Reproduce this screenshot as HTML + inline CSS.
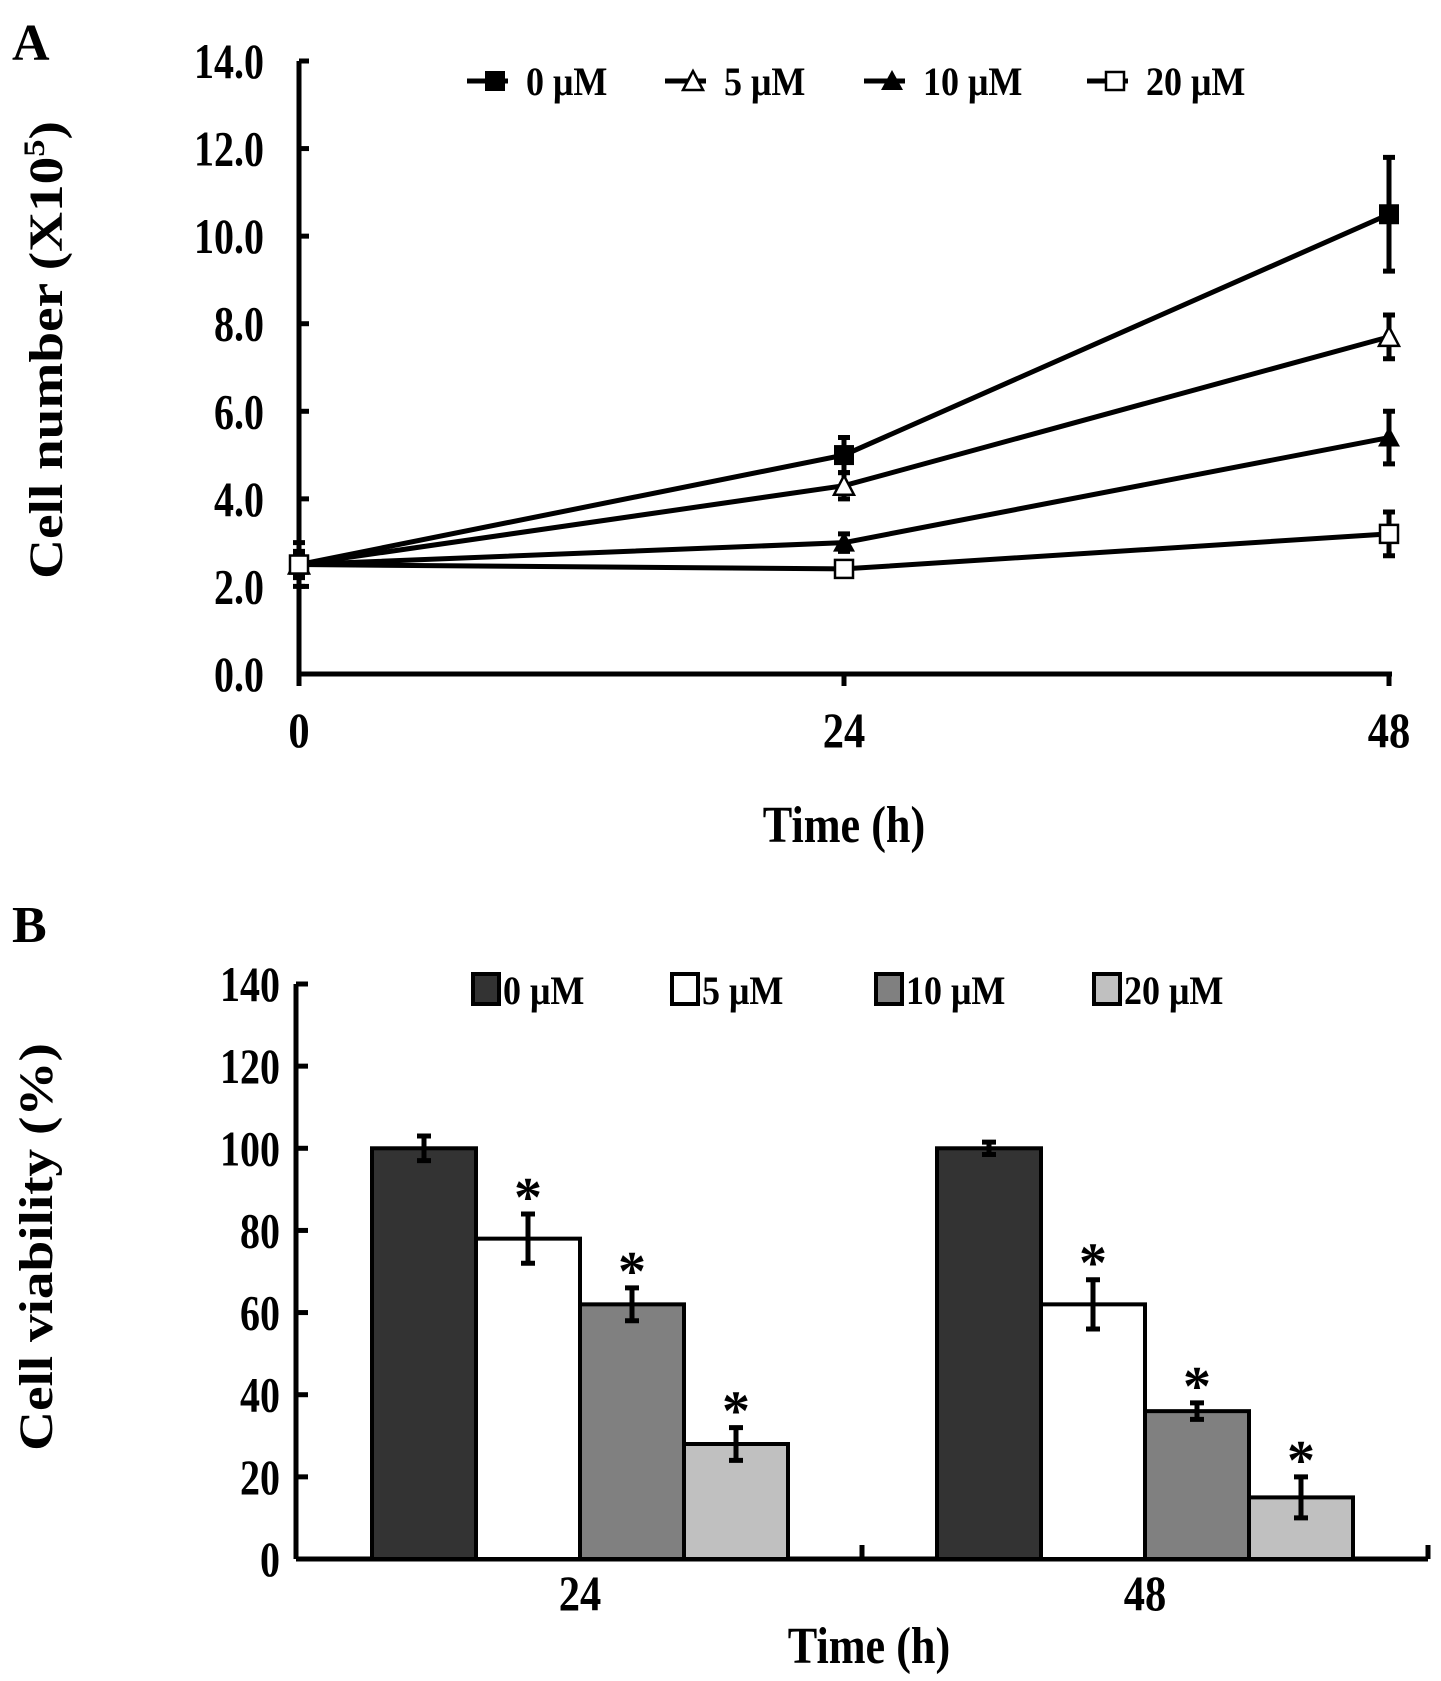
<!DOCTYPE html>
<html><head><meta charset="utf-8"><style>
body{margin:0;background:#fff}
svg{display:block}
text{font-family:"Liberation Serif",serif;font-weight:bold;fill:#000}
</style></head><body>
<svg id="fig" width="1441" height="1681" viewBox="0 0 1441 1681">
<text x="12" y="60" font-size="52">A</text>
<text x="12" y="942" font-size="52">B</text>
<g id="ga"></g>
<g id="gb"></g>
</svg>
<script>
const NS='http://www.w3.org/2000/svg';
// ---- Chart A data ----
const aTimes=[0,24,48];
const aSeries=['0 μM','5 μM','10 μM','20 μM'];
const aMean0=[2.5,5.0,10.5];
const aErr0=[0.5,0.4,1.3];
const aMean5=[2.5,4.3,7.7];
const aErr5=[0.3,0.3,0.5];
const aMean10=[2.5,3.0,5.4];
const aErr10=[0.2,0.2,0.6];
const aMean20=[2.5,2.4,3.2];
const aErr20=[0.2,0.1,0.5];
const aYTicks=['0.0','2.0','4.0','6.0','8.0','10.0','12.0','14.0'];
// ---- Chart B data ----
const bGroups=['24','48'];
const bSeries=['0 μM','5 μM','10 μM','20 μM'];
const bVal24=[100,78,62,28];
const bErr24=[3,6,4,4];
const bVal48=[100,62,36,15];
const bErr48=[1.5,6,2,5];
const bSig24=[false,true,true,true];
const bSig48=[false,true,true,true];
const bYTicks=['0','20','40','60','80','100','120','140'];

function el(p,tag,attrs,txt){const e=document.createElementNS(NS,tag);for(const k in attrs)e.setAttribute(k,attrs[k]);if(txt!==undefined)e.textContent=txt;p.appendChild(e);return e;}

// ===== Chart A =====
const ga=document.getElementById('ga');
const ax0=299,ax1=1389,ay0=674,ay1=61;
const xA=t=>ax0+(ax1-ax0)*t/48;
const yA=v=>ay0-(ay0-ay1)*v/14;
let ln=el(ga,'line',{x1:ax0,y1:ay1,x2:ax0,y2:ay0+12,stroke:'#000','stroke-width':5});

ln=el(ga,'line',{x1:ax0,y1:ay0,x2:ax1+3,y2:ay0,stroke:'#000','stroke-width':5});

aYTicks.forEach(t=>{const y=yA(parseFloat(t));
 const tk=el(ga,'line',{x1:ax0,y1:y,x2:ax0+10,y2:y,stroke:'#000','stroke-width':5});
 
 const tx=el(ga,'text',{x:264,y:y+17,'font-size':50,'text-anchor':'end',transform:`translate(264 0) scale(0.8 1) translate(-264 0)`},t);
 });
aTimes.forEach(t=>{const x=xA(t);
 const tk=el(ga,'line',{x1:x,y1:ay0,x2:x,y2:ay0+12,stroke:'#000','stroke-width':5});
 
 const tx=el(ga,'text',{x:x,y:747,'font-size':50,'text-anchor':'middle',transform:`translate(${x} 0) scale(0.85 1) translate(${-x} 0)`},String(t));
 });
let tt=el(ga,'text',{x:844,y:842,'font-size':52,'text-anchor':'middle',transform:'translate(844 0) scale(0.85 1) translate(-844 0)'},'Time (h)');

tt=el(ga,'text',{x:0,y:0,'font-size':48,'text-anchor':'middle',transform:'translate(62 350) rotate(-90) scale(1.15 1)'});

tt.innerHTML='Cell number (X10<tspan dy="-18" font-size="30">5</tspan><tspan dy="18">)</tspan>';
function marker(p,kind,x,y){let m;
 if(kind===0)m=el(p,'rect',{x:x-10,y:y-10,width:20,height:20,fill:'#000'});
 if(kind===1)m=el(p,'polygon',{points:`${x},${y-10} ${x-10},${y+9} ${x+10},${y+9}`,fill:'#fff',stroke:'#000','stroke-width':2.5});
 if(kind===2)m=el(p,'polygon',{points:`${x},${y-11} ${x-11},${y+9} ${x+11},${y+9}`,fill:'#000'});
 if(kind===3)m=el(p,'rect',{x:x-9,y:y-9,width:18,height:18,fill:'#fff',stroke:'#000','stroke-width':2.5});
 }
const aMeans=[aMean0,aMean5,aMean10,aMean20],aErrs=[aErr0,aErr5,aErr10,aErr20];
aMeans.forEach((ms,si)=>{
 const pts=ms.map((v,i)=>xA(aTimes[i])+','+yA(v)).join(' ');
 const pl=el(ga,'polyline',{points:pts,fill:'none',stroke:'#000','stroke-width':5});
 
 ms.forEach((v,i)=>{const x=xA(aTimes[i]),e=aErrs[si][i];
  const eb=el(ga,'path',{d:`M${x},${yA(v+e)}V${yA(v-e)}M${x-6},${yA(v+e)}H${x+6}M${x-6},${yA(v-e)}H${x+6}`,stroke:'#000','stroke-width':5,fill:'none'});
  
  marker(ga,si,x,yA(v));});
});
const legAx=[470,668,867,1090];
aSeries.forEach((s,i)=>{const x=legAx[i],y=81;
 const g=el(ga,'g',{});
 el(g,'line',{x1:x-3,y1:y,x2:x+38,y2:y,stroke:'#000','stroke-width':5});
 marker(g,i,x+25,y);
 el(g,'text',{x:x+56,y:y+14,'font-size':40,transform:`translate(${x+56} 0) scale(0.9 1) translate(${-x-56} 0)`},s);});

// ===== Chart B =====
const gb=document.getElementById('gb');
const bx0=296,bx1=1428,by0=1559,by1=984;
const yB=v=>by0-(by0-by1)*v/140;
const gStart=[372,937],bw=104;
const fills=['#333333','#ffffff','#808080','#c0c0c0'];
ln=el(gb,'line',{x1:bx0,y1:by1,x2:bx0,y2:by0,stroke:'#000','stroke-width':5});

ln=el(gb,'line',{x1:bx0,y1:by0,x2:bx1,y2:by0,stroke:'#000','stroke-width':5});

[862,bx1].forEach(x=>{const tk=el(gb,'line',{x1:x,y1:by0,x2:x,y2:by0-14,stroke:'#000','stroke-width':5});
 });
bYTicks.forEach(t=>{const y=yB(parseFloat(t));
 const tk=el(gb,'line',{x1:bx0,y1:y,x2:bx0+12,y2:y,stroke:'#000','stroke-width':5});
 
 const tx=el(gb,'text',{x:280,y:y+17,'font-size':50,'text-anchor':'end',transform:`translate(280 0) scale(0.8 1) translate(-280 0)`},t);
 });
const bVals=[bVal24,bVal48],bErrs=[bErr24,bErr48],bSigs=[bSig24,bSig48];
bGroups.forEach((gname,gi)=>{
 bVals[gi].forEach((v,si)=>{const x=gStart[gi]+si*bw;
  const r=el(gb,'rect',{x:x,y:yB(v),width:bw,height:by0-yB(v),fill:fills[si],stroke:'#000','stroke-width':4});
  
  const cx=x+bw/2,e=bErrs[gi][si];
  const eb=el(gb,'path',{d:`M${cx},${yB(v+e)}V${yB(v-e)}M${cx-7},${yB(v+e)}H${cx+7}M${cx-7},${yB(v-e)}H${cx+7}`,stroke:'#000','stroke-width':5,fill:'none'});
  
  if(bSigs[gi][si]){const a=el(gb,'text',{x:cx,y:yB(v+e)+2,'font-size':56,'font-weight':'normal','text-anchor':'middle'},'*');
   }
 });
 const tx=el(gb,'text',{x:gStart[gi]+2*bw,y:1610,'font-size':50,'text-anchor':'middle',transform:`translate(${gStart[gi]+2*bw} 0) scale(0.85 1) translate(${-gStart[gi]-2*bw} 0)`},gname);
 
});
tt=el(gb,'text',{x:869,y:1663,'font-size':52,'text-anchor':'middle',transform:'translate(869 0) scale(0.85 1) translate(-869 0)'},'Time (h)');

tt=el(gb,'text',{x:0,y:0,'font-size':48,'text-anchor':'middle',transform:'translate(52 1247) rotate(-90) scale(1.15 1)'},'Cell viability (%)');

const legBx=[473,672,876,1094];
bSeries.forEach((s,i)=>{const x=legBx[i],y=989;
 const g=el(gb,'g',{});
 el(g,'rect',{x:x,y:y-15,width:26,height:30,fill:fills[i],stroke:'#000','stroke-width':4});
 el(g,'text',{x:x+30,y:y+15,'font-size':40,transform:`translate(${x+30} 0) scale(0.9 1) translate(${-x-30} 0)`},s);});
</script>
</body></html>
